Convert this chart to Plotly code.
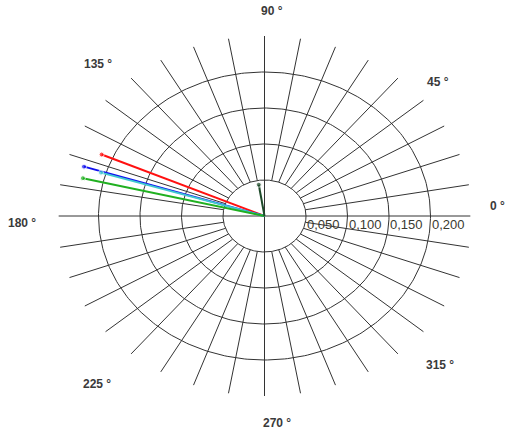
import numpy as np
import plotly.graph_objects as go

# ---- data ----
series_names = ["red", "blue", "cyan", "green", "darkgreen"]
series_r = [0.214, 0.228, 0.206, 0.225, 0.044]
series_theta = [156.5, 162.5, 163.0, 166.5, 99.0]
series_colors = ["#ff1010", "#1010f0", "#40c8d0", "#20b020", "#1e4a2a"]

radial_ticks = [0.05, 0.10, 0.15, 0.20]
radial_tick_labels = ["0,050", "0,100", "0,150", "0,200"]
angle_ticks = [0, 45, 90, 135, 180, 225, 270, 315]
angle_tick_labels = ["0 °", "45 °", "90 °", "135 °", "180 °", "225 °", "270 °", "315 °"]

W, H = 516, 437
cx, cy = 264.5, 216.0
sx, sy = 830.0, 720.0  # px per unit


def px2x(px):
    return (px - cx) / sx


def px2y(py):
    return (cy - py) / sy


fig = go.Figure()
grid_col = "#333333"

# circles
t = np.linspace(0, 2 * np.pi, 361)
for r in radial_ticks:
    fig.add_trace(go.Scatter(x=r * np.cos(t), y=r * np.sin(t), mode="lines",
                             line=dict(color=grid_col, width=1), hoverinfo="skip",
                             showlegend=False))

# spokes
sx_list, sy_list = [], []
for a in range(0, 360, 10):
    rad = np.deg2rad(a)
    if a % 90 == 0:
        continue
    sx_list += [0.05 * np.cos(rad), 0.25 * np.cos(rad), None]
    sy_list += [0.05 * np.sin(rad), 0.25 * np.sin(rad), None]
# main axes
sx_list += [-0.248, 0.248, None, 0, 0, None]
sy_list += [0, 0, None, -0.25, 0.25, None]
fig.add_trace(go.Scatter(x=sx_list, y=sy_list, mode="lines",
                         line=dict(color=grid_col, width=1), hoverinfo="skip",
                         showlegend=False))

# data lines
for name, r, th, c in zip(series_names, series_r, series_theta, series_colors):
    rad = np.deg2rad(th)
    fig.add_trace(go.Scatter(x=[0, r * np.cos(rad)], y=[0, r * np.sin(rad)],
                             mode="lines+markers", name=name,
                             line=dict(color=c, width=2),
                             marker=dict(color=c, size=[0, 5]),
                             showlegend=False))

# angle labels (pixel positions of label centres)
angle_label_px = [(497, 206), (438, 82), (272, 11), (98, 64),
                  (22, 223), (97, 384), (277, 423), (440, 365)]
for lab, (px, py) in zip(angle_tick_labels, angle_label_px):
    fig.add_annotation(x=px2x(px), y=px2y(py), text="<b>" + lab + "</b>",
                       showarrow=False, xanchor="center", yanchor="middle",
                       font=dict(family="Liberation Sans, Arial", size=12, color="#3a3a3a"))

# radial labels
for r, lab in zip(radial_ticks, radial_tick_labels):
    fig.add_annotation(x=r, y=px2y(224), text=lab, showarrow=False,
                       xanchor="left", yanchor="middle", xshift=-1,
                       font=dict(family="Liberation Sans, Arial", size=13, color="#3a3a30"))

fig.update_xaxes(range=[px2x(0), px2x(W)], visible=False, fixedrange=True)
fig.update_yaxes(range=[px2y(H), px2y(0)], visible=False, fixedrange=True)
fig.update_layout(width=W, height=H, margin=dict(l=0, r=0, t=0, b=0),
                  paper_bgcolor="white", plot_bgcolor="white")

fig.write_html("out.html", config={"displayModeBar": False},
               post_script="document.body.style.margin='0';document.body.style.overflow='hidden';")
